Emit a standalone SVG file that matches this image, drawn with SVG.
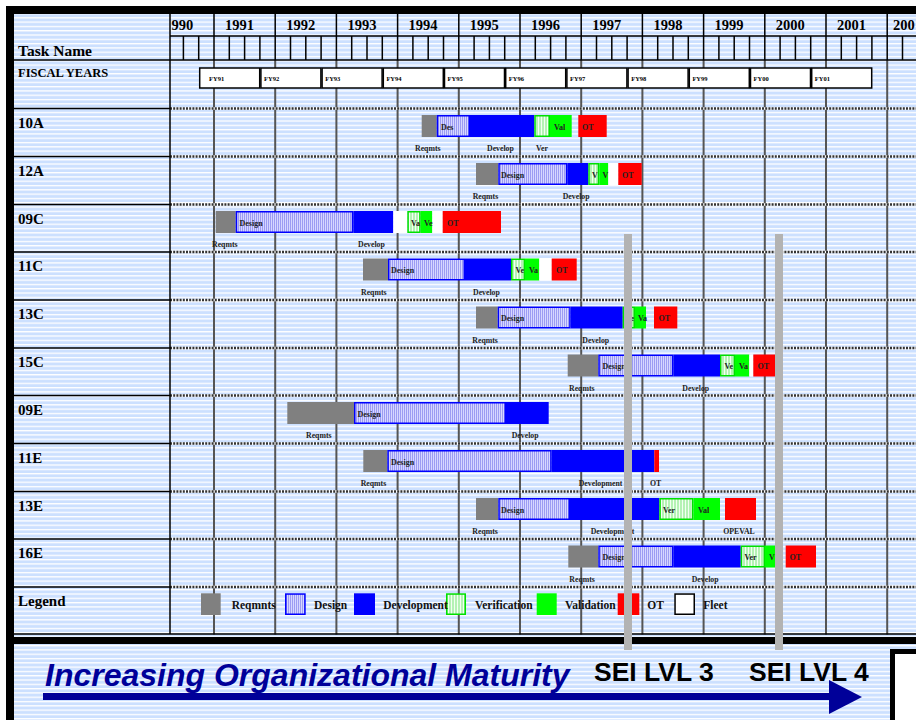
<svg xmlns="http://www.w3.org/2000/svg" width="916" height="720" viewBox="0 0 916 720">
<defs>
<pattern id="bg" patternUnits="userSpaceOnUse" width="8" height="4.3"><rect width="8" height="4.3" fill="#cce0ff"/><rect width="8" height="1.3" fill="#ffffff"/></pattern>
<pattern id="des" patternUnits="userSpaceOnUse" width="2" height="10"><rect width="2" height="10" fill="#d6d6ff"/><rect width="0.8" height="10" fill="#8c8cf0"/></pattern>
<pattern id="ver" patternUnits="userSpaceOnUse" width="3" height="10"><rect width="3" height="10" fill="#b4f2b4"/><rect x="1" width="1" height="10" fill="#f2fff2"/></pattern>
<style>
.t{font-family:"Liberation Serif","Times New Roman",serif;font-weight:bold;fill:#000}
.rl{font-size:15px}
.bl{font-size:8px;fill:#222}
.ul{font-size:7.8px;fill:#222}
.lg{font-size:11.5px;fill:#111}
.fy{font-size:6.5px}
.yr{font-size:14.5px}
.rq{fill:#808080}
.ds{fill:url(#des);stroke:#0000ff;stroke-width:1.5}
.dv{fill:#0000ff}
.vr{fill:url(#ver);stroke:#00e000;stroke-width:1.5}
.vl{fill:#00ff00}
.ot{fill:#ff0000}
.fl{fill:#ffffff}
.sei{fill:#b3b3b3}
.dot{stroke:#333;stroke-width:2.5;stroke-dasharray:2 1.2;fill:none}
.dotw{stroke:#fff;stroke-width:2.5;fill:none}
.sol{stroke:#000;stroke-width:1.5;fill:none}
.vg{stroke:#555;stroke-width:2;fill:none}
.fyb{fill:#fff;stroke:#000;stroke-width:1.5}
</style>
</defs>

<!-- backgrounds -->
<rect x="14" y="14" width="902" height="623" fill="url(#bg)"/>
<rect x="14" y="644" width="902" height="76" fill="url(#bg)"/>

<!-- grid -->
<g id="grid">
<path class="vg" d="M214 60V634.5M275.2 60V634.5M336.4 60V634.5M397.6 60V634.5M458.8 60V634.5M520 60V634.5M581.2 60V634.5M642.4 60V634.5M703.6 60V634.5M764.8 60V634.5M826 60V634.5M887.2 60V634.5"/>
<path class="dotw" d="M170 108.5H916M170 156.5H916M170 204.5H916M170 252H916M170 300H916M170 348H916M170 395.5H916M170 443.5H916M170 491.5H916M170 539H916M170 587H916"/>
<path class="dot" d="M170 108.5H916M170 156.5H916M170 204.5H916M170 252H916M170 300H916M170 348H916M170 395.5H916M170 443.5H916M170 491.5H916M170 539H916M170 587H916"/>
<path class="sol" d="M14 108.5H170M14 156.5H170M14 204.5H170M14 252H170M14 300H170M14 348H170M14 395.5H170M14 443.5H170M14 491.5H170M14 539H170M14 587H170M14 634H916M14 60H916M170 36H916M170 14V634"/>
<path class="sol" d="M214 14V60M275.2 14V60M336.4 14V60M397.6 14V60M458.8 14V60M520 14V60M581.2 14V60M642.4 14V60M703.6 14V60M764.8 14V60M826 14V60M887.2 14V60"/>
<path class="sol" d="M183.4 36V60M198.7 36V60M229.3 36V60M244.6 36V60M259.9 36V60M290.5 36V60M305.8 36V60M321.1 36V60M351.7 36V60M367 36V60M382.3 36V60M412.9 36V60M428.2 36V60M443.5 36V60M474.1 36V60M489.4 36V60M504.7 36V60M535.3 36V60M550.6 36V60M565.9 36V60M596.5 36V60M611.8 36V60M627.1 36V60M657.7 36V60M673 36V60M688.3 36V60M718.9 36V60M734.2 36V60M749.5 36V60M780.1 36V60M795.4 36V60M810.7 36V60M841.3 36V60M856.6 36V60M871.9 36V60M902.5 36V60"/>
</g>

<!-- frame -->
<rect x="6" y="6" width="910" height="8" fill="#000"/>
<rect x="6" y="6" width="8" height="714" fill="#000"/>
<rect x="6" y="637" width="910" height="7" fill="#000"/>

<!-- header -->
<g id="header">
<text class="t yr" x="171.5" y="30">990</text>
<text class="t yr" x="225" y="30">1991</text>
<text class="t yr" x="286.2" y="30">1992</text>
<text class="t yr" x="347.4" y="30">1993</text>
<text class="t yr" x="408.6" y="30">1994</text>
<text class="t yr" x="469.8" y="30">1995</text>
<text class="t yr" x="531" y="30">1996</text>
<text class="t yr" x="592.2" y="30">1997</text>
<text class="t yr" x="653.4" y="30">1998</text>
<text class="t yr" x="714.6" y="30">1999</text>
<text class="t yr" x="775.8" y="30">2000</text>
<text class="t yr" x="837" y="30">2001</text>
<text class="t yr" x="893" y="30">200</text>
<text class="t" x="18" y="55.5" font-size="15.5">Task Name</text>
</g>

<g id="fiscal-years">
<text class="t" x="18" y="77" font-size="12.5">FISCAL YEARS</text>
<rect class="fyb" x="199.7" y="68" width="60" height="20"/>
<rect class="fyb" x="260.9" y="68" width="60" height="20"/>
<rect class="fyb" x="322.1" y="68" width="60" height="20"/>
<rect class="fyb" x="383.3" y="68" width="60" height="20"/>
<rect class="fyb" x="444.5" y="68" width="60" height="20"/>
<rect class="fyb" x="505.7" y="68" width="60" height="20"/>
<rect class="fyb" x="566.9" y="68" width="60" height="20"/>
<rect class="fyb" x="628.1" y="68" width="60" height="20"/>
<rect class="fyb" x="689.3" y="68" width="60" height="20"/>
<rect class="fyb" x="750.5" y="68" width="60" height="20"/>
<rect class="fyb" x="811.7" y="68" width="60" height="20"/>
<text class="t fy" x="209" y="81">FY91</text>
<text class="t fy" x="264" y="81">FY92</text>
<text class="t fy" x="325.2" y="81">FY93</text>
<text class="t fy" x="386.4" y="81">FY94</text>
<text class="t fy" x="447.6" y="81">FY95</text>
<text class="t fy" x="508.8" y="81">FY96</text>
<text class="t fy" x="570" y="81">FY97</text>
<text class="t fy" x="631.2" y="81">FY98</text>
<text class="t fy" x="692.4" y="81">FY99</text>
<text class="t fy" x="753.6" y="81">FY00</text>
<text class="t fy" x="814.8" y="81">FY01</text>
</g>

<!-- rows -->
<g id="row-10A">
<text class="t rl" x="18" y="127.5">10A</text>
<rect class="rq" x="421.7" y="115" width="15" height="22"/>
<rect class="ds" x="437.45" y="115.75" width="31.8" height="20.5"/>
<rect class="dv" x="470" y="115" width="64.3" height="22"/>
<rect class="vr" x="535.05" y="115.75" width="14.2" height="20.5"/>
<rect class="vl" x="550" y="115" width="21.7" height="22"/>
<rect class="ot" x="578.3" y="115" width="28.4" height="22"/>
<text class="t bl" x="441" y="129.5">Des</text>
<text class="t bl" x="554" y="129.5">Val</text>
<text class="t bl" x="582" y="129.5">OT</text>
<text class="t ul" x="415" y="151">Reqmts</text>
<text class="t ul" x="487" y="151">Develop</text>
<text class="t ul" x="536" y="151">Ver</text>
</g>

<g id="row-12A">
<text class="t rl" x="18" y="175.5">12A</text>
<rect class="rq" x="476" y="163" width="22.3" height="22"/>
<rect class="ds" x="499.05" y="163.75" width="67.5" height="20.5"/>
<rect class="dv" x="567.3" y="163" width="21" height="22"/>
<rect class="vr" x="589.05" y="163.75" width="9.5" height="20.5"/>
<rect class="vl" x="599.3" y="163" width="9" height="22"/>
<rect class="fl" x="608.3" y="163" width="10" height="22"/>
<rect class="ot" x="618.3" y="163" width="23.4" height="22"/>
<text class="t bl" x="501" y="177.5">Design</text>
<text class="t bl" x="592" y="177.5">V</text>
<text class="t bl" x="602.5" y="177.5">V</text>
<text class="t bl" x="622" y="177.5">OT</text>
<text class="t ul" x="472.7" y="199">Reqmts</text>
<text class="t ul" x="562.7" y="199">Develop</text>
</g>

<g id="row-09C">
<text class="t rl" x="18" y="223.5">09C</text>
<rect class="rq" x="215.7" y="211" width="20" height="22"/>
<rect class="ds" x="236.45" y="211.75" width="116.1" height="20.5"/>
<rect class="dv" x="353.3" y="211" width="40" height="22"/>
<rect class="fl" x="393.3" y="211" width="14" height="22"/>
<rect class="vr" x="408.05" y="211.75" width="11.9" height="20.5"/>
<rect class="vl" x="420.7" y="211" width="11.6" height="22"/>
<rect class="fl" x="432.3" y="211" width="10.4" height="22"/>
<rect class="ot" x="442.7" y="211" width="58.3" height="22"/>
<text class="t bl" x="239.5" y="225.5">Design</text>
<text class="t bl" x="411" y="225.5">Va</text>
<text class="t bl" x="424" y="225.5">Ve</text>
<text class="t bl" x="447" y="225.5">OT</text>
<text class="t ul" x="212" y="246.5">Reqmts</text>
<text class="t ul" x="358" y="246.5">Develop</text>
</g>

<g id="row-11C">
<text class="t rl" x="18" y="271">11C</text>
<rect class="rq" x="363" y="258.5" width="25" height="22"/>
<rect class="ds" x="388.75" y="259.25" width="75.5" height="20.5"/>
<rect class="dv" x="465" y="258.5" width="46" height="22"/>
<rect class="vr" x="511.75" y="259.25" width="12.5" height="20.5"/>
<rect class="vl" x="525" y="258.5" width="14.3" height="22"/>
<rect class="fl" x="539.3" y="258.5" width="12.4" height="22"/>
<rect class="ot" x="551.7" y="258.5" width="25" height="22"/>
<text class="t bl" x="391" y="273">Design</text>
<text class="t bl" x="515.5" y="273">Ve</text>
<text class="t bl" x="529" y="273">Va</text>
<text class="t bl" x="556" y="273">OT</text>
<text class="t ul" x="361" y="294.5">Reqmts</text>
<text class="t ul" x="473" y="294.5">Develop</text>
</g>

<g id="row-13C">
<text class="t rl" x="18" y="319">13C</text>
<rect class="rq" x="476" y="306.5" width="21.7" height="22"/>
<rect class="ds" x="498.45" y="307.25" width="71.5" height="20.5"/>
<rect class="dv" x="570.7" y="306.5" width="52" height="22"/>
<rect class="vr" x="623.45" y="307.25" width="10.8" height="20.5"/>
<rect class="vl" x="635" y="306.5" width="11" height="22"/>
<rect class="ot" x="654" y="306.5" width="23.3" height="22"/>
<text class="t bl" x="501" y="321">Design</text>
<text class="t bl" x="625.5" y="321">Ve</text>
<text class="t bl" x="638" y="321">Va</text>
<text class="t bl" x="658.5" y="321">OT</text>
<text class="t ul" x="472.3" y="342.5">Reqmts</text>
<text class="t ul" x="582.3" y="342.5">Develop</text>
</g>

<g id="row-15C">
<text class="t rl" x="18" y="367">15C</text>
<rect class="rq" x="567.7" y="354.5" width="30.6" height="22"/>
<rect class="ds" x="599.05" y="355.25" width="73.5" height="20.5"/>
<rect class="dv" x="673.3" y="354.5" width="46.7" height="22"/>
<rect class="vr" x="720.75" y="355.25" width="13.5" height="20.5"/>
<rect class="vl" x="735" y="354.5" width="14.3" height="22"/>
<rect class="fl" x="749.3" y="354.5" width="4" height="22"/>
<rect class="ot" x="753.3" y="354.5" width="21.7" height="22"/>
<text class="t bl" x="602.5" y="369">Design</text>
<text class="t bl" x="724.5" y="369">Ve</text>
<text class="t bl" x="739" y="369">Va</text>
<text class="t bl" x="757.5" y="369">OT</text>
<text class="t ul" x="569" y="390.5">Reqmts</text>
<text class="t ul" x="682.3" y="390.5">Develop</text>
</g>

<g id="row-09E">
<text class="t rl" x="18" y="414.5">09E</text>
<rect class="rq" x="287.3" y="402" width="66.7" height="22"/>
<rect class="ds" x="354.75" y="402.75" width="150.5" height="20.5"/>
<rect class="dv" x="506" y="402" width="42.7" height="22"/>
<text class="t bl" x="357.5" y="416.5">Design</text>
<text class="t ul" x="306" y="438">Reqmts</text>
<text class="t ul" x="511.7" y="438">Develop</text>
</g>

<g id="row-11E">
<text class="t rl" x="18" y="462.5">11E</text>
<rect class="rq" x="363.3" y="450" width="24" height="22"/>
<rect class="ds" x="388.05" y="450.75" width="162.9" height="20.5"/>
<rect class="dv" x="551.7" y="450" width="102.6" height="22"/>
<rect class="ot" x="654.3" y="450" width="4.7" height="22"/>
<text class="t bl" x="391" y="464.5">Design</text>
<text class="t ul" x="360.7" y="486">Reqmts</text>
<text class="t ul" x="578.7" y="486">Development</text>
<text class="t ul" x="650" y="486">OT</text>
</g>

<g id="row-13E">
<text class="t rl" x="18" y="510.5">13E</text>
<rect class="rq" x="476" y="498" width="22.3" height="22"/>
<rect class="ds" x="499.05" y="498.75" width="70.2" height="20.5"/>
<rect class="dv" x="570" y="498" width="89.3" height="22"/>
<rect class="vr" x="660.05" y="498.75" width="32.5" height="20.5"/>
<rect class="vl" x="693.3" y="498" width="26.7" height="22"/>
<rect class="ot" x="725" y="498" width="31" height="22"/>
<text class="t bl" x="501" y="512.5">Design</text>
<text class="t bl" x="663" y="512.5">Ver</text>
<text class="t bl" x="698" y="512.5">Val</text>
<text class="t ul" x="472.3" y="534">Reqmts</text>
<text class="t ul" x="590.7" y="534">Development</text>
<text class="t ul" x="723.3" y="534">OPEVAL</text>
</g>

<g id="row-16E">
<text class="t rl" x="18" y="558">16E</text>
<rect class="rq" x="568.3" y="545.5" width="30" height="22"/>
<rect class="ds" x="599.05" y="546.25" width="73.5" height="20.5"/>
<rect class="dv" x="673.3" y="545.5" width="67.4" height="22"/>
<rect class="vr" x="741.45" y="546.25" width="22.8" height="20.5"/>
<rect class="vl" x="765" y="545.5" width="17" height="22"/>
<rect class="ot" x="785.7" y="545.5" width="30.3" height="22"/>
<text class="t bl" x="602.5" y="560">Design</text>
<text class="t bl" x="744.5" y="560">Ver</text>
<text class="t bl" x="769" y="560">V</text>
<text class="t bl" x="789.5" y="560">OT</text>
<text class="t ul" x="569.3" y="581.5">Reqmts</text>
<text class="t ul" x="691.7" y="581.5">Develop</text>
</g>

<g id="legend">
<text class="t rl" x="18" y="606">Legend</text>
<rect class="rq" x="201" y="593.3" width="19.7" height="21.7"/>
<rect class="ds" x="285.75" y="594.05" width="19.2" height="20.2"/>
<rect class="dv" x="354" y="593.3" width="21" height="21.7"/>
<rect class="vr" x="446.75" y="594.05" width="18.5" height="20.2"/>
<rect class="vl" x="536.7" y="593.3" width="20" height="21.7"/>
<rect class="ot" x="617.7" y="593.3" width="21.6" height="21.7"/>
<rect x="675.05" y="594.05" width="19.2" height="20.2" fill="#fff" stroke="#000" stroke-width="1.5"/>
<text class="t lg" x="231.7" y="609">Reqmnts</text>
<text class="t lg" x="314" y="609">Design</text>
<text class="t lg" x="383.3" y="609">Development</text>
<text class="t lg" x="475" y="609">Verification</text>
<text class="t lg" x="565" y="609">Validation</text>
<text class="t lg" x="647.3" y="609">OT</text>
<text class="t lg" x="703.3" y="609">Fleet</text>
</g>

<!-- bottom panel -->
<g id="maturity">
<text x="45" y="686" font-family="'Liberation Sans',Arial,sans-serif" font-weight="bold" font-style="italic" font-size="32" fill="#000099">Increasing Organizational Maturity</text>
<text x="594" y="681" font-family="'Liberation Sans',Arial,sans-serif" font-weight="bold" font-size="26.5" fill="#000">SEI LVL 3</text>
<text x="749" y="681" font-family="'Liberation Sans',Arial,sans-serif" font-weight="bold" font-size="26.5" fill="#000">SEI LVL 4</text>
<rect x="892.5" y="651.5" width="40" height="80" fill="#fff" stroke="#000" stroke-width="5"/>
</g>

<g id="connectors">
<rect x="43" y="693" width="788" height="7" fill="#000099"/>
<polygon points="829,680 862,697 829,714" fill="#000099"/>
</g>

<g id="sei-markers">
<rect class="sei" x="624" y="234" width="8" height="416"/>
<rect class="sei" x="775" y="234" width="8" height="416"/>
</g>
</svg>
